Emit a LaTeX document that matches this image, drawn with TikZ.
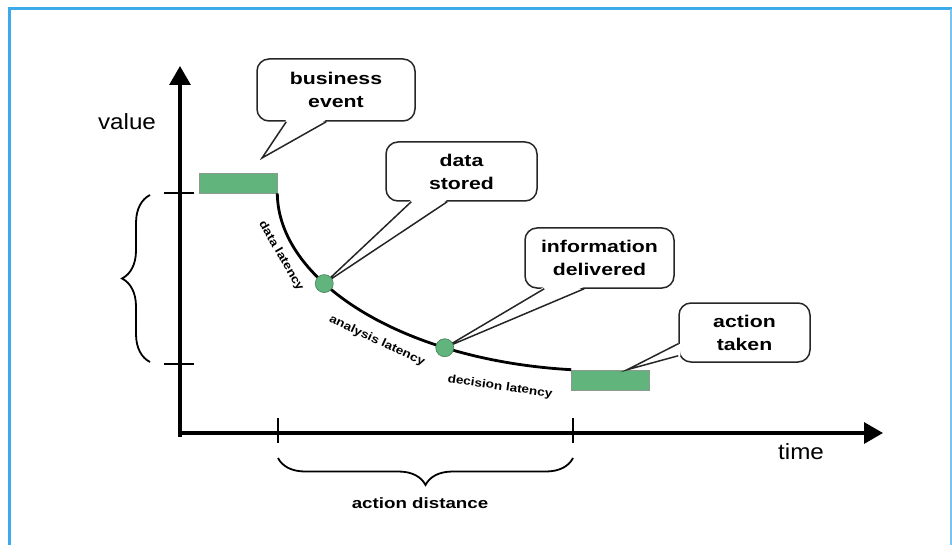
\documentclass[tikz,border=0pt]{standalone}
\usepackage{fontspec}
\setmainfont{Liberation Sans}
\newfontfamily\widebold[FakeStretch=1.25]{Liberation Sans Bold}
\newfontfamily\latbold[FakeStretch=1.18]{Liberation Sans Bold}
\newfontfamily\wideregular[FakeStretch=1.1]{Liberation Sans}
\usetikzlibrary{arrows.meta,decorations.pathreplacing,calc}
\definecolor{frameblue}{RGB}{62,170,234}
\definecolor{bargreen}{RGB}{96,180,124}
\definecolor{bardraw}{RGB}{90,110,95}
\newcommand{\calltail}[4]{%
  \fill[white] ($(#1)+#4$) -- (#2) -- ($(#3)+#4$) -- cycle;
  \draw[cbord] (#1) -- (#2) -- (#3);}
\begin{document}
\begin{tikzpicture}[x=1pt,y=-1pt,
  axis/.style={line width=3.2pt,-{Triangle[width=21pt,length=19pt]}},
  tickline/.style={line width=1.8pt},
  bracestyle/.style={line width=1.8pt, decorate, decoration={brace, amplitude=#1}},
  bar/.style={fill=bargreen, draw=bardraw!70, line width=0.6pt, minimum width=78pt, minimum height=20pt, inner sep=0pt},
  callout/.style={draw=black!85, line width=1.5pt, fill=white, rounded corners=12pt, align=center, font=\widebold\fontsize{17}{23}\selectfont, inner sep=0pt},
  cbord/.style={draw=black!85, line width=1.5pt, line join=miter},
  dot/.style={circle, fill=bargreen, draw=bargreen!70!black, line width=0.6pt, minimum size=18pt, inner sep=0pt},
  lat/.style={font=\latbold\fontsize{11.5}{13}\selectfont, inner sep=0pt},
  curve/.style={line width=2.8pt},
]
\useasboundingbox (0,0) rectangle (952,545);
% frame
\draw[frameblue, line width=3pt] (9,545) -- (9,9) -- (952,9);
\draw[frameblue!70, line width=2pt] (950.5,9) -- (950.5,545);

% axes
\coordinate (ybot) at (180,437);
\coordinate (ytip) at (180,66);
\coordinate (xl) at (178,433);
\coordinate (xtip) at (883,433);
\draw[axis] (ybot) -- (ytip);
\draw[axis] (xl) -- (xtip);

% ticks
\coordinate (t1a) at (164,193); \coordinate (t1b) at (194,193);
\coordinate (t2a) at (164,364); \coordinate (t2b) at (194,364);
\coordinate (t3a) at (278,418); \coordinate (t3b) at (278,443);
\coordinate (t4a) at (573,418); \coordinate (t4b) at (573,443);
\draw[tickline] (t1a) -- (t1b);
\draw[tickline] (t2a) -- (t2b);
\draw[tickline] (t3a) -- (t3b);
\draw[tickline] (t4a) -- (t4b);

% braces
\coordinate (bl1) at (150,362); \coordinate (bl2) at (150,195);
\coordinate (bb1) at (573,458); \coordinate (bb2) at (278,458);
\draw[bracestyle=28] (bl1) -- (bl2);
\draw[bracestyle=27] (bb1) -- (bb2);

% axis labels
\node[font=\wideregular\fontsize{22}{26}\selectfont, inner sep=0pt] (val) at (127,122) {value};
\node[font=\wideregular\fontsize{22}{26}\selectfont, inner sep=0pt] (tim) at (801,452) {time};
\node[font=\widebold\fontsize{15}{18}\selectfont, inner sep=0pt] (ad) at (420,503) {action distance};

% bars
\node[bar] (be) at (238,183) {};
\node[bar] (at) at (610.5,380) {};

% curve
\draw[curve] (be.south east) .. controls (278,280) and (400,360) .. (at.north west)
  coordinate[pos=0.37] (d1) coordinate[pos=0.73] (d2);

% latency labels
\node[lat, rotate=-60] (l1) at (281,256) {data latency};
\node[lat, rotate=-25] (l2) at (377,341) {analysis latency};
\node[lat, rotate=-8] (l3) at (500,387) {decision latency};

% callouts
\node[callout, minimum width=158pt, minimum height=62pt] (cbe) at (336,90) {business\\event};
\node[callout, minimum width=151pt, minimum height=59pt] (cds) at (461.5,171.5) {data\\stored};
\node[callout, minimum width=149pt, minimum height=60pt] (cid) at (599.5,258) {information\\delivered};
\node[callout, minimum width=131pt, minimum height=59pt] (cat) at (744.5,332.5) {action\\taken};

\coordinate (cbe1) at ($(cbe.south west)+(30,0)$);
\coordinate (cbe2) at ($(cbe.south west)+(70,0)$);
\coordinate (tbe) at (262,158);
\calltail{cbe1}{tbe}{cbe2}{(0,-2)}

\coordinate (cds1) at ($(cds.south west)+(26,0)$);
\coordinate (cds2) at ($(cds.south west)+(62,0)$);
\calltail{cds1}{d1}{cds2}{(0,-2)}

\coordinate (cid1) at ($(cid.south west)+(20,0)$);
\coordinate (cid2) at ($(cid.south west)+(60,0)$);
\calltail{cid1}{d2}{cid2}{(0,-2)}

\coordinate (cat1) at ($(cat.south west)+(0,-19)$);
\coordinate (cat2) at ($(cat.south west)+(0,-7)$);
\coordinate (tat) at ($(at.north west)+(56,0)$);
\calltail{cat1}{tat}{cat2}{(2,0)}

% dots
\node[dot] (p1) at (d1) {};
\node[dot] (p2) at (d2) {};
\end{tikzpicture}
\end{document}
